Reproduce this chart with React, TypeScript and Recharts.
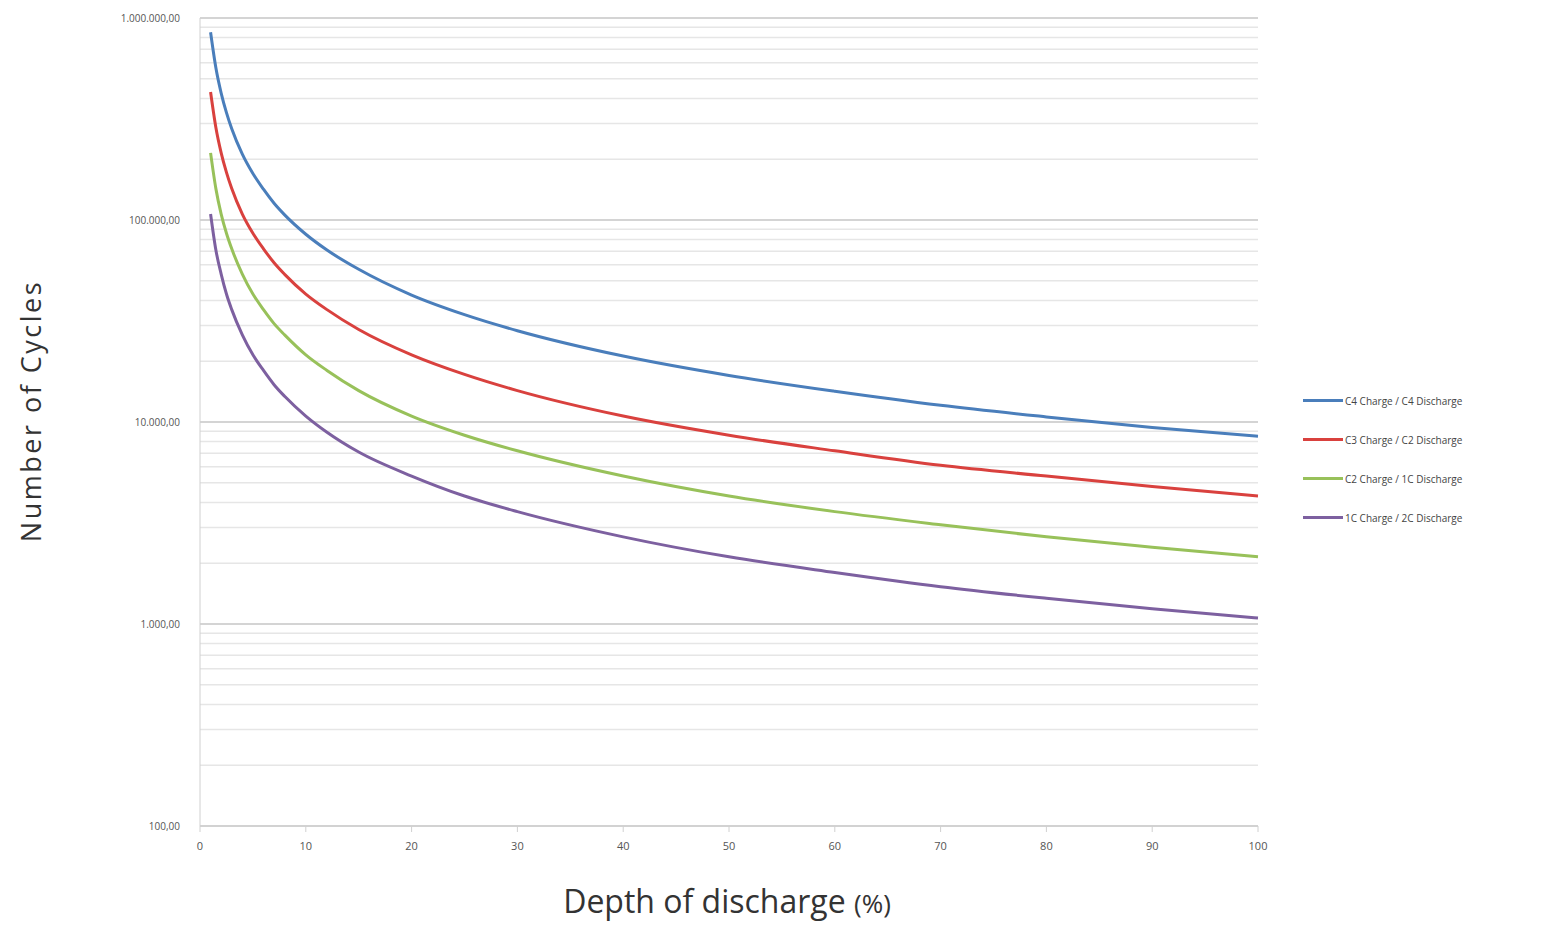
import { LineChart, Line, XAxis, YAxis, CartesianGrid, ReferenceLine, Label } from 'recharts';

// depth of discharge (%)
const depth = [1, 1.5, 2, 2.5, 3, 4, 5, 6, 7, 8, 10, 12, 15, 20, 25, 30, 40, 50, 60, 70, 80, 90, 100];

const c4c4 = [850000, 567000, 425000, 340000, 283000, 212000, 170000, 142000, 121000, 106000, 85000, 71000, 57000, 42500, 34000, 28300, 21200, 17000, 14200, 12100, 10600, 9400, 8500];
const c3c2 = [430000, 287000, 215000, 172000, 143000, 107000, 86000, 72000, 61400, 53800, 43000, 36000, 28700, 21500, 17200, 14300, 10700, 8600, 7200, 6100, 5400, 4800, 4300];
const c2c1 = [215000, 143000, 107000, 86000, 72000, 54000, 43000, 36000, 30700, 27000, 21500, 18000, 14300, 10700, 8600, 7200, 5400, 4300, 3600, 3100, 2700, 2400, 2150];
const c1c2 = [107000, 71000, 54000, 43000, 36000, 27000, 21500, 18000, 15300, 13400, 10700, 8900, 7100, 5400, 4300, 3600, 2700, 2150, 1800, 1530, 1340, 1190, 1070];

const seriesNames = ['C4 Charge / C4 Discharge', 'C3 Charge / C2 Discharge', 'C2 Charge / 1C Discharge', '1C Charge / 2C Discharge'];
const seriesColors = ['#4a7ebb', '#d9413e', '#98c15a', '#7d60a0'];

const xTicks = [0, 10, 20, 30, 40, 50, 60, 70, 80, 90, 100];
const yTicks = [100, 1000, 10000, 100000, 1000000];
const minorSteps = [2, 3, 4, 5, 6, 7, 8, 9];

const data = depth.map((d, i) => ({
  depth: d,
  s0: c4c4[i],
  s1: c3c2[i],
  s2: c2c1[i],
  s3: c1c2[i],
}));

// minor gridlines inside each decade
const minorGrid = yTicks.slice(0, -1).flatMap((dec) => minorSteps.map((m) => dec * m));

const fmt = (v: number) => {
  const s = Math.round(v).toString().replace(/\B(?=(\d{3})+(?!\d))/g, '.');
  return s + ',00';
};

const font = 'Open Sans, sans-serif';

const XLabel = () => (
  <text x={727} y={913} textAnchor="middle" fill="#333" fontFamily={font}>
    <tspan fontSize={32}>Depth of discharge </tspan>
    <tspan fontSize={26}>(%)</tspan>
  </text>
);

const YLabel = () => (
  <text
    x={30}
    y={411}
    transform="rotate(-90 30 411)"
    textAnchor="middle"
    dominantBaseline="central"
    fill="#333"
    fontFamily={font}
    fontSize={27}
    letterSpacing={2.5}
  >
    Number of Cycles
  </text>
);

export default function App() {
  return (
    <div style={{ position: 'absolute', left: 0, top: 0, width: 1547, height: 926, background: '#fff' }}>
      <LineChart width={1547} height={926} data={data} margin={{ top: 18, right: 289, bottom: 0, left: 0 }}>
        <CartesianGrid vertical={false} stroke="#d4d4d4" strokeWidth={2} />
        {minorGrid.map((v) => (
          <ReferenceLine key={v} y={v} stroke="#e6e6e6" strokeWidth={1.5} ifOverflow="hidden" />
        ))}
        <XAxis
          dataKey="depth"
          type="number"
          domain={[0, 100]}
          ticks={xTicks}
          height={100}
          stroke="#d0d0d0"
          tickLine={{ stroke: '#d0d0d0' }}
          tick={{ fill: '#555', fontSize: 11, fontFamily: font }}
          tickMargin={10}
        >
          <Label content={<XLabel />} />
        </XAxis>
        <YAxis
          scale="log"
          domain={[100, 1000000]}
          ticks={yTicks}
          width={200}
          stroke="#d0d0d0"
          tickLine={false}
          tickFormatter={fmt}
          tick={{ fill: '#555', fontSize: 10, fontFamily: font }}
          tickMargin={14}
          allowDataOverflow
        >
          <Label content={<YLabel />} />
        </YAxis>
        {seriesNames.map((name, i) => (
          <Line
            key={name}
            name={name}
            dataKey={'s' + i}
            type="monotone"
            stroke={seriesColors[i]}
            strokeWidth={3}
            dot={false}
            isAnimationActive={false}
          />
        ))}
      </LineChart>
      <div style={{ position: 'absolute', left: 1303, top: 381, fontFamily: font, fontSize: 10, color: '#444' }}>
        {seriesNames.map((name, i) => (
          <div key={name} style={{ display: 'flex', alignItems: 'center', height: 39 }}>
            <div style={{ width: 40, height: 3, background: seriesColors[i], marginRight: 2 }} />
            <span>{name}</span>
          </div>
        ))}
      </div>
    </div>
  );
}
